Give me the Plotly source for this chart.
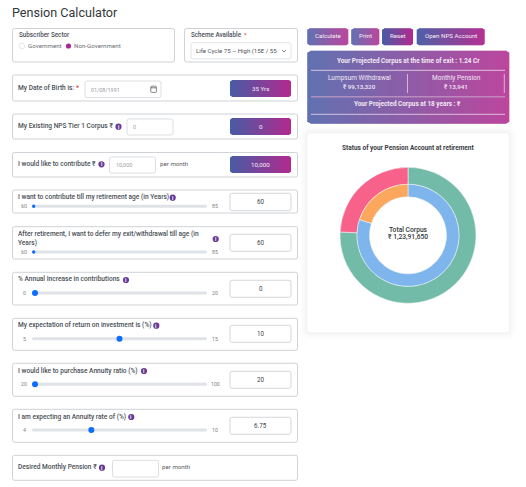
import plotly.graph_objects as go

W, H = 526, 487

# ---- data ----
corpus_labels = ["Returns earned", "Total contribution"]
corpus_values = [9391650, 3000000]
split_labels = ["Lumpsum Withdrawal", "Annuity purchase"]
split_values = [9913320, 2478330]
slider_names = ["I want to contribute till my retirement age (in Years)",
                "% Annual Increase in contributions",
                "My expectation of return on investment is (%)",
                "I would like to purchase Annuity ratio (%)",
                "I am expecting an Annuity rate of (%)"]
slider_mins = [60, 60, 0, 5, 20, 4]
slider_maxs = [85, 85, 20, 15, 100, 10]
slider_vals = [60, 60, 0, 10, 20, 6]
slider_texts = ["60", "60", "0", "10", "20", "6.75"]

FONT = "Roboto"
LABEL = "#4a4f57"
BORDER = "#cfd2d6"
C1, C2 = (72, 92, 165), (178, 42, 143)

shapes, annos = [], []


def px(x):
    return x / W


def py(y):
    return 1 - y / H


def rect(x0, y0, x1, y1, fill="white", line=BORDER, lw=1, r=2, opacity=None):
    xs = lambda v: f"{px(v):.5f}"
    ys = lambda v: f"{py(v):.5f}"
    path = (f"M{xs(x0+r)},{ys(y0)} L{xs(x1-r)},{ys(y0)} Q{xs(x1)},{ys(y0)} {xs(x1)},{ys(y0+r)} "
            f"L{xs(x1)},{ys(y1-r)} Q{xs(x1)},{ys(y1)} {xs(x1-r)},{ys(y1)} "
            f"L{xs(x0+r)},{ys(y1)} Q{xs(x0)},{ys(y1)} {xs(x0)},{ys(y1-r)} "
            f"L{xs(x0)},{ys(y0+r)} Q{xs(x0)},{ys(y0)} {xs(x0+r)},{ys(y0)} Z")
    s = dict(type="path", xref="paper", yref="paper", path=path, fillcolor=fill,
             line=dict(color=line, width=lw if line else 0), layer="above")
    if opacity is not None:
        s["opacity"] = opacity
    shapes.append(s)


def seg(x0, y0, x1, y1, color="white", lw=1, opacity=1):
    shapes.append(dict(type="line", xref="paper", yref="paper", x0=px(x0), y0=py(y0), x1=px(x1), y1=py(y1),
                       line=dict(color=color, width=lw), opacity=opacity, layer="above"))


def circle(cx, cy, r, fill, line=None, lw=0):
    shapes.append(dict(type="circle", xref="paper", yref="paper", x0=px(cx-r), y0=py(cy-r), x1=px(cx+r), y1=py(cy+r),
                       fillcolor=fill, line=dict(color=line or fill, width=lw), layer="above"))


def grad(x0, y0, x1, y1, r=2):
    n = int(round(x1 - x0))
    for i in range(n):
        f = (i + .5) / n
        c = tuple(round(a + (b - a) * f) for a, b in zip(C1, C2))
        inset = 0
        d = min(i, n - 1 - i)
        if d < r:
            inset = (r - d) * .6
        shapes.append(dict(type="rect", xref="paper", yref="paper", x0=px(x0 + i), x1=px(x0 + i + 1.25 if i < n-1 else x0 + i + 1),
                           y0=py(y0 + inset), y1=py(y1 - inset), fillcolor=f"rgb{c}", line=dict(width=0), layer="above"))


def t(x, y, text, size=6.6, color=LABEL, anchor="left", weight=500):
    annos.append(dict(xref="paper", yref="paper", x=px(x), y=py(y), text=text, showarrow=False, xanchor=anchor,
                      yanchor="middle", borderpad=0, borderwidth=0,
                      font=dict(family=FONT, size=size, color=color, weight=weight)))


def info(x, y):
    circle(x, y, 3.1, "#6a3a98")
    t(x, y, "i", 5, "white", "center", 700)


def box_value(y0, y1, text):
    rect(230, y0, 291, y1, line="#d5d7da")
    t(260.5, (y0 + y1) / 2, text, 6.3, "#42464c", "center", 400)


def grad_value(y0, y1, text):
    grad(230, y0, 291, y1)
    t(260.5, (y0 + y1) / 2, text, 6.2, "#f8eef6", "center", 400)


def input_box(x0, y0, x1, y1, text=""):
    rect(x0, y0, x1, y1, line="#dcdee1")
    if text:
        t(x0 + 6, (y0 + y1) / 2 + .3, text, 5.4, "#9a9da3", "left", 400)


def slider(y, i, large=True):
    lo, hi, v = slider_mins[i], slider_maxs[i], slider_vals[i]
    rect(32, y - 1.5, 207, y + 1.5, fill="#dfe2e6", line=None, r=1.5)
    th = 3 if large else 1.7
    pos = 32 + th + (v - lo) / (hi - lo) * (175 - 2 * th)
    circle(pos, y, th, "#0d6efd")
    t(24, y - .2, str(lo), 5.2, "#7d8086", "center", 400)
    t(215, y - .2, str(hi), 5.2, "#7d8086", "center", 400)


# ---- shadow under cards ----
for g, a in ((7, .008), (5, .01), (3, .012), (1.5, .015)):
    rect(307.3 - g, 133.3 - g, 509 + g, 332.3 + g, fill="#000000", line=None, r=3 + g, opacity=a)

# ---- title ----
t(12, 12.5, "Pension Calculator", 12.6, "#33373c", weight=400)

# ---- top panels ----
rect(12.5, 28.5, 174.5, 62)
t(19, 35, "Subscriber Sector", 6.3)
circle(22, 46, 2.8, "white", "#dadcdf", .7)
t(27.5, 46, "Government", 6.2, "#6b6f75", weight=400)
circle(68.5, 46, 2.6, "#a72a8f")
t(73.7, 46, "Non-Government", 6.2, "#6b6f75", weight=400)

rect(184.5, 28.5, 297.5, 62)
t(191, 35, "Scheme Available", 6.3)
t(243.5, 34, "*", 6, "#e04040", weight=500)
rect(191, 42.7, 291, 59, line="#e1e3e6")
t(196, 50.7, "Life Cycle 75 – High (15E / 55", 6.1, "#4f5359", weight=400)
seg(282, 50, 284, 52, "#555", .7)
seg(284, 52, 286, 50, "#555", .7)

# ---- date of birth ----
rect(12.5, 75, 297.5, 101)
t(18.3, 87.7, "My Date of Birth is:")
t(75.5, 87.7, "*", 6.6, "#e04040", weight=500)
input_box(85, 81, 161, 97.5, "01/08/1991")
rect(150.8, 86.2, 156.4, 92.4, fill="white", line="#555", lw=.7, r=1)
seg(150.8, 87.8, 156.4, 87.8, "#555", .8)
grad_value(80, 97, "35 Yrs")

# ---- corpus ----
rect(12.5, 114, 297.5, 139)
t(18.3, 126, "My Existing NPS Tier 1 Corpus ₹")
info(118.5, 126.7)
input_box(127, 119, 173, 135, "0")
grad_value(118, 135, "0")

# ---- contribute ----
rect(12.5, 152.5, 297.5, 177)
t(18.3, 164, "I would like to contribute ₹")
info(101.5, 164.3)
input_box(109.5, 157, 155.5, 173, "10,000")
t(160, 163.7, "per month", 6.2, "#5a5e64", weight=400)
grad_value(156, 173, "10,000")

# ---- retirement age ----
rect(12.5, 190, 297.5, 213)
t(18.3, 197, slider_names[0])
info(172.7, 197.7)
slider(206.3, 0, False)
box_value(193.3, 210.7, slider_texts[0])

# ---- deferral ----
rect(12.5, 226.7, 297.5, 259)
t(18.3, 233.7, "After retirement, I want to defer my exit/withdrawal till age (in")
t(18.3, 243.3, "Years)")
info(215.7, 239)
slider(252, 1, False)
box_value(234.3, 251.3, slider_texts[1])

# ---- annual increase ----
rect(12.5, 272.3, 297.5, 305)
t(18.3, 279.3, slider_names[1])
info(126, 280)
slider(293, 2)
box_value(280.3, 297.3, slider_texts[2])

# ---- return ----
rect(12.5, 318.3, 297.5, 350.3)
t(18.3, 325.3, slider_names[2])
info(156.3, 325.7)
slider(338.7, 3)
box_value(325.3, 342.3, slider_texts[3])

# ---- annuity ratio ----
rect(12.5, 363.3, 297.5, 396.3)
t(18.3, 370.7, slider_names[3])
info(144, 371)
slider(384.3, 4)
box_value(371.3, 388.3, slider_texts[4])

# ---- annuity rate ----
rect(12.5, 409.3, 297.5, 442.3)
t(18.3, 416.7, slider_names[4])
info(131.3, 417)
slider(430, 5)
box_value(417.3, 434.3, slider_texts[5])

# ---- desired pension ----
rect(12.5, 455.3, 297.5, 480.3)
t(18.3, 467, "Desired Monthly Pension ₹")
info(102, 467.7)
input_box(112.5, 460.3, 158.5, 477)
t(162.3, 467, "per month", 6.2, "#5a5e64", weight=400)

# ---- buttons ----
for x0, x1, label in ((307.3, 348, "Calculate"), (351.3, 379.3, "Print"), (382, 413.3, "Reset"), (416.7, 484.7, "Open NPS Account")):
    grad(x0, 28.3, x1, 45.3)
    t((x0 + x1) / 2, 35.8, label, 6.2, "#f8eef6", "center", 400)

# ---- summary panel ----
grad(307.3, 50.7, 509, 123.7, 3)
t(408, 60.7, "Your Projected Corpus at the time of exit : 1.24 Cr", 6.4, "#f4e8f4", "center", 700)
seg(311, 70.3, 505, 70.3, "#f0dcec", .8)
t(359.3, 77.7, "Lumpsum Withdrawal", 6.5, "#f4e8f4", "center", 400)
t(359.3, 87, "₹ 99,13,320", 6.2, "#f4e8f4", "center", 500)
t(456, 77.7, "Monthly Pension", 6.5, "#f4e8f4", "center", 400)
t(456, 87, "₹ 13,941", 6.2, "#f4e8f4", "center", 500)
seg(407.5, 74, 407.5, 93, "#f0dcec", .7)
seg(504.3, 74, 504.3, 93, "#f0dcec", .7)
seg(311, 96.7, 505, 96.7, "#c9a0c8", 1.4, .7)
t(407.7, 104.3, "Your Projected Corpus at 18 years : ₹", 6.4, "#f4e8f4", "center", 700)
seg(311, 114.3, 505, 114.3, "#f0dcec", .8)

# ---- chart card ----
rect(307.3, 133.3, 509, 332.3, line=None, r=3)
t(408, 147.7, "Status of your Pension Account at retirement", 6.5, "#3a3e44", "center", 700)
t(408, 229.5, "Total Corpus", 6.7, "#33373c", "center", 500)
t(408, 237.5, "₹ 1,23,91,650", 6.7, "#33373c", "center", 500)

CX, CY, R1, R2, R3 = 408, 235.3, 68, 51, 38.5


def domain(r):
    return dict(x=[px(CX - r), px(CX + r)], y=[py(CY + r), py(CY - r)])


fig = go.Figure()
fig.add_trace(go.Pie(labels=corpus_labels, values=corpus_values, domain=domain(R1), hole=R2 / R1, sort=False,
                     direction="clockwise", rotation=0, textinfo="none", showlegend=False, hoverinfo="skip",
                     marker=dict(colors=["#73BBA9", "#F7618A"], line=dict(color="#eef4f2", width=.6))))
fig.add_trace(go.Pie(labels=split_labels, values=split_values, domain=domain(R2), hole=R3 / R2, sort=False,
                     direction="clockwise", rotation=0, textinfo="none", showlegend=False, hoverinfo="skip",
                     marker=dict(colors=["#7DB5EC", "#FBA75E"], line=dict(color="#eef4f2", width=.6))))
for s in shapes:
    s["layer"] = "below"
fig.update_layout(width=W, height=H, margin=dict(l=0, r=0, t=0, b=0), paper_bgcolor="white", plot_bgcolor="white",
                  shapes=shapes, annotations=annos, showlegend=False, font=dict(family=FONT))
fig.write_html("out.html", config=dict(displayModeBar=False),
               post_script="document.body.style.margin='0';document.body.style.overflow='hidden';")
